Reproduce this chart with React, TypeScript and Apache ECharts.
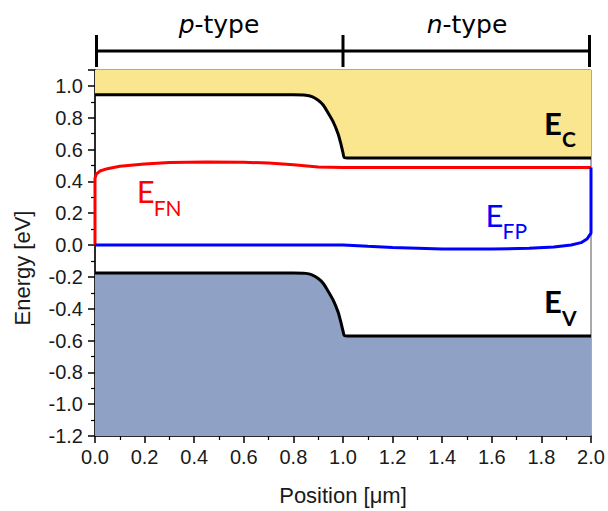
import React, { useEffect, useRef } from 'react';
import * as echarts from 'echarts';

// Band edges (position in µm, energy in eV)
const bandPositions = [0, 0.8, 0.85, 0.875, 0.9, 0.92, 0.94, 0.96, 0.98, 0.99, 1.0, 1.005, 1.02, 2.0];
const conductionBand = [0.945, 0.945, 0.942, 0.932, 0.91, 0.88, 0.83, 0.775, 0.7, 0.645, 0.58, 0.55, 0.547, 0.547];
const valenceBand = [-0.175, -0.175, -0.178, -0.188, -0.21, -0.24, -0.29, -0.345, -0.42, -0.475, -0.54, -0.568, -0.572, -0.572];

// Electron quasi-Fermi level
const fnPositions = [0, 0, 0.005, 0.02, 0.05, 0.1, 0.2, 0.3, 0.45, 0.6, 0.7, 0.8, 0.9, 1.0, 1.2, 1.6, 2.0];
const quasiFermiN = [0, 0.42, 0.445, 0.465, 0.48, 0.495, 0.51, 0.518, 0.522, 0.52, 0.515, 0.505, 0.49, 0.487, 0.487, 0.487, 0.487];

// Hole quasi-Fermi level
const fpPositions = [0, 1.0, 1.1, 1.2, 1.4, 1.6, 1.75, 1.85, 1.92, 1.96, 1.985, 2.0, 2.0];
const quasiFermiP = [0, 0, -0.008, -0.015, -0.025, -0.025, -0.02, -0.012, 0.0, 0.015, 0.04, 0.075, 0.487];

// Region bracket
const regionBounds = [0, 1, 2];
const regionNames = ['p', 'n'];

const zip = (xs: number[], ys: number[]) => xs.map((x, i) => [x, ys[i]]);

export default function App() {
  const ref = useRef<HTMLDivElement>(null);
  useEffect(() => {
    if (!ref.current) return;
    document.body.style.margin = '0';
    const chart = echarts.init(ref.current, null, { renderer: 'svg' });
    const labelFont = 'Liberation Sans, Arial, sans-serif';
    chart.setOption({
      animation: false,
      backgroundColor: '#fff',
      grid: { left: 95, right: 17, top: 70, bottom: 75, show: true, borderColor: '#555', borderWidth: 1 },
      xAxis: {
        type: 'value', min: 0, max: 2, interval: 0.2,
        axisLine: { show: true, onZero: false, lineStyle: { color: '#000', width: 1.5 } },
        axisTick: { show: true, length: 7, lineStyle: { color: '#000', width: 1.5 } },
        minorTick: { show: true, splitNumber: 2, length: 4, lineStyle: { color: '#000', width: 1.2 } },
        splitLine: { show: false },
        axisLabel: { color: '#1a1a1a', fontSize: 20, fontFamily: labelFont, margin: 11, formatter: (v: number) => v.toFixed(1) },
        name: 'Position [μm]', nameLocation: 'middle', nameGap: 48,
        nameTextStyle: { color: '#1a1a1a', fontSize: 22, fontFamily: labelFont },
      },
      yAxis: {
        type: 'value', min: -1.2, max: 1.1, interval: 0.2,
        axisLine: { show: true, onZero: false, lineStyle: { color: '#000', width: 1.5 } },
        axisTick: { show: true, length: 7, lineStyle: { color: '#000', width: 1.5 } },
        minorTick: { show: true, splitNumber: 2, length: 4, lineStyle: { color: '#000', width: 1.2 } },
        splitLine: { show: false },
        axisLabel: { color: '#1a1a1a', fontSize: 20, fontFamily: labelFont, margin: 12, showMaxLabel: false, formatter: (v: number) => v.toFixed(1) },
      },
      series: [
        {
          name: 'Ec', type: 'line', data: zip(bandPositions, conductionBand), showSymbol: false, smooth: 0.3,
          lineStyle: { color: '#000', width: 3 }, areaStyle: { color: '#fae68f', opacity: 1, origin: 'end' }, z: 2,
        },
        {
          name: 'Ev', type: 'line', data: zip(bandPositions, valenceBand), showSymbol: false, smooth: 0.3,
          lineStyle: { color: '#000', width: 3 }, areaStyle: { color: '#8fa1c5', opacity: 1, origin: 'start' }, z: 2,
        },
        {
          name: 'EFn', type: 'line', data: zip(fnPositions, quasiFermiN), showSymbol: false,
          lineStyle: { color: '#ff0000', width: 3 }, z: 3,
        },
        {
          name: 'EFp', type: 'line', data: zip(fpPositions, quasiFermiP), showSymbol: false,
          lineStyle: { color: '#0000ff', width: 3 }, z: 4,
        },
      ],
    });

    const px = (x: number, y: number) => chart.convertToPixel({ gridIndex: 0 }, [x, y]) as number[];
    const bracketY = 51;
    const bx = regionBounds.map((b) => px(b, 0)[0]);
    const graphics: any[] = [
      {
        type: 'text', x: 22, y: 268, rotation: Math.PI / 2,
        style: { text: 'Energy [eV]', fill: '#1a1a1a', fontSize: 22, fontFamily: labelFont, align: 'center', verticalAlign: 'middle' },
      },
      { type: 'line', shape: { x1: bx[0] + 1, y1: bracketY, x2: bx[2] - 1, y2: bracketY }, style: { stroke: '#000', lineWidth: 3 } },
      ...bx.map((x, i) => ({
        type: 'line',
        shape: { x1: x + (i === 0 ? 1.5 : i === 2 ? -1.5 : 0), y1: 35, x2: x + (i === 0 ? 1.5 : i === 2 ? -1.5 : 0), y2: 67 },
        style: { stroke: '#000', lineWidth: 3 },
      })),
      ...regionNames.map((n, i) => ({
        type: 'text',
        x: (bx[i] + bx[i + 1]) / 2,
        y: 24,
        style: {
          text: `{i|${n}}{r|-type}`,
          align: 'center', verticalAlign: 'middle',
          rich: {
            i: { fontStyle: 'italic', fontSize: 25, fontFamily: 'DejaVu Sans', fill: '#000' },
            r: { fontSize: 25, fontFamily: 'DejaVu Sans', fill: '#000' },
          },
        },
      })),
    ];

    const bandLabel = (x: number, y: number, main: string, sub: string, color: string, bold: boolean, eWidth: number) => {
      const p = px(x, y);
      const fw = bold ? 'bold' : 'normal';
      return [
        { type: 'text', x: p[0], y: p[1], style: { text: main, fill: color, fontSize: 31, fontWeight: fw, fontFamily: 'Lato, sans-serif', align: 'left', verticalAlign: 'bottom' }, z: 10 },
        { type: 'text', x: p[0] + eWidth, y: p[1] + 11, style: { text: sub, fill: color, fontSize: 21, fontWeight: fw, fontFamily: 'Lato, sans-serif', align: 'left', verticalAlign: 'bottom' }, z: 10 },
      ];
    };
    graphics.push(...bandLabel(1.81, 0.67, 'E', 'C', '#000', true, 18));
    graphics.push(...bandLabel(1.81, -0.45, 'E', 'V', '#000', true, 18));
    graphics.push(...bandLabel(0.168, 0.24, 'E', 'FN', '#ff0000', false, 17));
    graphics.push(...bandLabel(1.575, 0.094, 'E', 'FP', '#0000ff', false, 17));

    chart.setOption({ graphic: graphics });
    return () => chart.dispose();
  }, []);
  return <div ref={ref} style={{ width: 608, height: 511 }} />;
}
